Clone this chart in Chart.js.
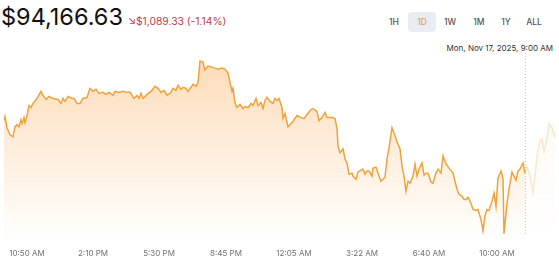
<!DOCTYPE html>
<html>
<head>
<meta charset="utf-8">
<script src="https://cdn.jsdelivr.net/npm/chart.js@4.4.0/dist/chart.umd.min.js"></script>
<style>
  body { margin: 0; width: 559px; height: 262px; overflow: hidden; background: #fff; font-family: Inter, "Noto Sans", sans-serif; position: relative; }
  #price { position: absolute; left: 1px; top: 2px; font-size: 23.5px; color: #111; }
  #change { position: absolute; left: 128px; top: 15px; font-size: 10.3px; color: #c0404b; }
  .btn { position: absolute; top: 12px; height: 20px; line-height: 20px; font-size: 8.5px; font-weight: 500; color: #555; text-align: center; width: 28px; }
  .btn.on { background: #e9ecf3; border-radius: 4px; color: #f0a23b; }
  #date { position: absolute; right: 6px; top: 43px; font-size: 8px; color: #333; }
  canvas { position: absolute; left: 0; top: 0; }
</style>
</head>
<body>
<div id="price">$94,166.63</div>
<div id="change">↘$1,089.33 (-1.14%)</div>
<div class="btn" style="left:380px">1H</div>
<div class="btn on" style="left:408px">1D</div>
<div class="btn" style="left:436px">1W</div>
<div class="btn" style="left:465px">1M</div>
<div class="btn" style="left:492px">1Y</div>
<div class="btn" style="left:520px">ALL</div>
<div id="date">Mon, Nov 17, 2025, 9:00 AM</div>
<canvas id="myChart" width="559" height="266"></canvas>
<script>
// minutes since 9:40 AM
var minutes = [0,3,9,18,27,33,39,45,51,54,60,63,69,75,81,87,99,111,117,126,135,147,162,171,177,183,192,204,210,219,228,237,249,
  258,267,276,285,297,306,315,327,333,345,357,369,378,390,399,405,411,417,429,441,453,462,471,480,489,501,507,516,522,531,537,
  546,552,561,567,576,582,588,597,603,612,624,633,642,654,663,672,678,684,687,693,699,708,717,723,732,741,747,756,762,771,777,783,789,798,
  807,813,819,825,834,837,843,852,864,879,891,900,909,921,927,939,945,954,963,969,984,993,999,1002,1008,1017,1023,1029,1035,1044,1047,1056,1062,1071,
  1077,1083,1089,1095,1104,1107,1116,1122,1131,1137,1143,1149,1155,1164,1173,1179,1188,1194,1200,1206,1212,1218,1227,1233,1239,1245,1254,1260,1266,1272,1281,1287,1296,1302,1311,1317,1326,1335,
  1347,1353,1359,1365,1374,1380,1386,1392,1401,1407,1416,1422,1431,1437,1443,1449,1455,1464,1470,1476,1482,1491,1497,1500,1509,1515,1524,1527,1536,1542,1548,1557,1563,
  1569,1578,1587,1593,1599,1608,1614,1620,1629,1635,1644,1653];
var prices = [95102,95174,94976,94850,94814,94994,95030,94994,95120,95048,95156,95066,95192,95372,95336,95408,95498,95624,95552,95480,95534,95498,95480,95408,95498,95444,95534,95498,95498,95408,95408,95498,95516,
  95678,95624,95660,95588,95606,95570,95606,95552,95624,95606,95624,95606,95606,95498,95552,95498,95588,95498,95570,95624,95714,95678,95606,95642,95552,95606,95678,95642,95732,95660,95696,
  95678,95624,95696,95750,95714,95786,96164,96146,96002,96074,96056,96038,96020,96038,96020,95948,95786,95624,95678,95426,95336,95390,95318,95354,95336,95408,95372,95498,95372,95426,95318,95462,95516,95444,
  95408,95498,95462,95498,95336,95138,95228,94994,95066,95192,95156,95138,95210,95300,95318,95264,95102,95156,95246,95156,95156,95138,94958,94652,94526,94598,94418,94346,94148,94166,94112,94058,94184,94220,
  94238,94148,94202,94202,94112,94256,94274,94166,94022,94058,94094,94418,94616,94976,94832,94724,94598,94292,94112,93842,94022,93986,94112,94328,94112,94238,94346,94130,94166,94166,94004,93986,94166,94238,94166,94472,94328,94256,
  94166,94022,93878,93788,93752,93698,93698,93734,93626,93518,93500,93518,93338,93140,93410,93518,93500,93662,93806,93572,94076,94202,94076,93086,93626,93878,94184,94148,94040,94202,94238,94346,94166.63,
  94292,94112,93824,94112,94472,94742,94778,94562,94778,95048,94976,94796];
var hoverMinute = 1563; // Mon, Nov 17, 2025, 9:00 AM
var tickMinutes = [69, 267, 465, 666, 870, 1074, 1275, 1479];
var tickLabels = ["10:50 AM", "2:10 PM", "5:30 PM", "8:45 PM", "12:05 AM", "3:22 AM", "6:40 AM", "10:00 AM"];

var hoverIndex = minutes.indexOf(hoverMinute);
var solid = [], faded = [];
for (var i = 0; i < minutes.length; i++) {
  if (i <= hoverIndex) solid.push({x: minutes[i], y: prices[i]});
  if (i >= hoverIndex) faded.push({x: minutes[i], y: prices[i]});
}

function grad(alpha) {
  return function(context) {
    var area = context.chart.chartArea;
    if (!area) return 'rgba(251,176,96,' + alpha + ')';
    var g = context.chart.ctx.createLinearGradient(0, area.top, 0, area.bottom);
    g.addColorStop(0, 'rgba(251,176,96,' + alpha + ')');
    g.addColorStop(1, 'rgba(251,176,96,0)');
    return g;
  };
}

var hoverLine = {
  id: 'hoverLine',
  afterDatasetsDraw: function(chart) {
    var ctx = chart.ctx, area = chart.chartArea;
    var x = Math.round(chart.scales.x.getPixelForValue(hoverMinute)) + 0.5;
    ctx.save();
    ctx.strokeStyle = 'rgba(240,162,59,0.7)';
    ctx.lineWidth = 1;
    ctx.setLineDash([1, 2]);
    ctx.beginPath();
    ctx.moveTo(x, area.top - 2);
    ctx.lineTo(x, area.bottom - 5);
    ctx.stroke();
    ctx.restore();
  }
};

new Chart("myChart", {
  type: "line",
  data: {
    datasets: [{
      data: solid,
      borderColor: '#f0a23b',
      borderWidth: 1.5,
      pointRadius: 0,
      tension: 0,
      fill: 'start',
      backgroundColor: grad(0.45)
    }, {
      data: faded,
      borderColor: 'rgba(240,175,100,0.3)',
      borderWidth: 1.5,
      pointRadius: 0,
      tension: 0,
      fill: 'start',
      backgroundColor: grad(0.1)
    }]
  },
  options: {
    responsive: false,
    animation: false,
    events: [],
    layout: { padding: { top: 55, left: 4, right: 2, bottom: 0 } },
    plugins: { legend: { display: false }, tooltip: { enabled: false } },
    scales: {
      x: {
        type: 'linear',
        min: 0,
        max: 1659,
        border: { display: false },
        grid: { display: false, drawTicks: false },
        afterBuildTicks: function(scale) {
          scale.ticks = tickMinutes.map(function(v) { return {value: v}; });
        },
        ticks: {
          autoSkip: false,
          maxRotation: 0,
          padding: 8,
          color: '#707070',
          font: { family: 'Inter', size: 8 },
          callback: function(value, index) { return tickLabels[index]; }
        }
      },
      y: {
        display: false,
        min: 92967,
        max: 96272
      }
    }
  },
  plugins: [hoverLine]
});
</script>
</body>
</html>
